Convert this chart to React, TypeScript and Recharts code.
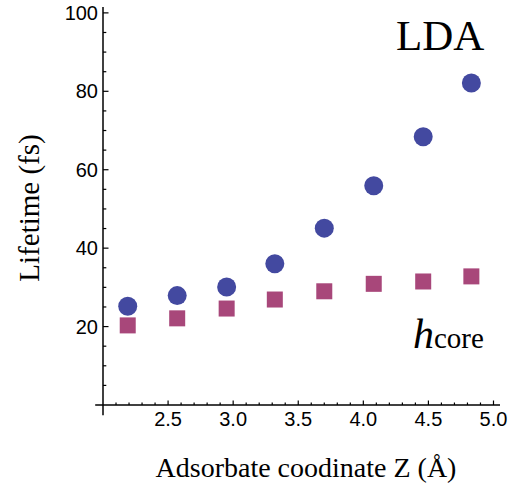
import React from 'react';
import { ScatterChart, Scatter, XAxis, YAxis, ReferenceLine } from 'recharts';

// adsorbate height Z (Å) and lifetimes (fs)
const zPositions = [2.19, 2.57, 2.95, 3.32, 3.7, 4.08, 4.46, 4.83];
const ldaLifetime = [25.2, 27.9, 30.1, 36.0, 45.1, 55.9, 68.4, 82.1];
const coreLifetime = [20.3, 22.1, 24.6, 26.9, 29.0, 30.9, 31.5, 32.8];

const xMajorTicks = [2.5, 3.0, 3.5, 4.0, 4.5, 5.0];
const xTickLabels = ['2.5', '3.0', '3.5', '4.0', '4.5', '5.0'];
const yMajorTicks = [20, 40, 60, 80, 100];
const yTickLabels = ['20', '40', '60', '80', '100'];

// minor ticks: every 0.1 on x, every 5 on y
const xTicks: number[] = [];
for (let i = 21; i <= 50; i++) xTicks.push(i / 10);
const yTicks: number[] = [];
for (let i = 5; i <= 100; i += 5) yTicks.push(i);

const ldaPoints = zPositions.map((z, i) => ({ z, t: ldaLifetime[i] }));
const corePoints = zPositions.map((z, i) => ({ z, t: coreLifetime[i] }));

const sans = '"Liberation Sans", Arial, Helvetica, sans-serif';
const serif = '"Liberation Serif", "Times New Roman", serif';

function XTick(props: any) {
  const { x, y, payload } = props;
  const idx = xMajorTicks.findIndex(t => Math.abs(t - payload.value) < 1e-6);
  const major = idx >= 0;
  return (
    <g>
      <line x1={x} x2={x} y1={y} y2={y - (major ? 4.5 : 2.5)} stroke="#000" strokeWidth={1.2} />
      {major && (
        <text x={x} y={y + 14} textAnchor="middle" dominantBaseline="central" fontSize={20} fontFamily={sans} fill="#000">
          {xTickLabels[idx]}
        </text>
      )}
    </g>
  );
}

function YTick(props: any) {
  const { x, y, payload } = props;
  const idx = yMajorTicks.indexOf(payload.value);
  const major = idx >= 0;
  return (
    <g>
      <line x1={x} x2={x + (major ? 5.5 : 3.3)} y1={y} y2={y} stroke="#000" strokeWidth={1.2} />
      {major && (
        <text x={x - 5} y={y} textAnchor="end" dominantBaseline="central" fontSize={20} fontFamily={sans} fill="#000">
          {yTickLabels[idx]}
        </text>
      )}
    </g>
  );
}

export default function App() {
  return (
    <div style={{ position: 'absolute', left: 0, top: 0, width: 511, height: 490, background: '#fff' }}>
      <ScatterChart width={511} height={490} margin={{ top: 7, right: 11, bottom: 0, left: 0 }}>
        <XAxis
          type="number"
          dataKey="z"
          domain={[2.0, 5.05]}
          allowDataOverflow
          ticks={xTicks}
          interval={0}
          height={85}
          tickSize={0}
          tickMargin={0}
          tickLine={false}
          tick={<XTick />}
          axisLine={{ stroke: '#000', strokeWidth: 1.5 }}
          label={{
            content: () => (
              <text x={306} y={477} textAnchor="middle" fontSize={28} fontFamily={serif} fill="#000">
                Adsorbate coodinate Z (Å)
              </text>
            ),
          }}
        />
        <YAxis
          type="number"
          dataKey="t"
          domain={[0, 101.5]}
          allowDataOverflow
          ticks={yTicks}
          interval={0}
          width={103}
          tickSize={0}
          tickMargin={0}
          tickLine={false}
          tick={<YTick />}
          axisLine={{ stroke: '#000', strokeWidth: 1.5 }}
          label={{
            content: () => (
              <text
                x={39}
                y={208}
                transform="rotate(-90, 39, 208)"
                textAnchor="middle"
                fontSize={29}
                fontFamily={serif}
                fill="#000"
              >
                Lifetime (fs)
              </text>
            ),
          }}
        />
        <ReferenceLine segment={[{ x: 2, y: 0 }, { x: 2, y: -2.6 }]} stroke="#000" strokeWidth={1.5} ifOverflow="visible" />
        <ReferenceLine segment={[{ x: 1.94, y: 0 }, { x: 2, y: 0 }]} stroke="#000" strokeWidth={1.5} ifOverflow="visible" />
        <Scatter
          name="LDA"
          data={ldaPoints}
          isAnimationActive={false}
          shape={(p: any) => <circle cx={p.cx} cy={p.cy} r={9.5} fill="#4349a0" />}
        />
        <Scatter
          name="h_core"
          data={corePoints}
          isAnimationActive={false}
          shape={(p: any) => <rect x={p.cx - 8} y={p.cy - 8} width={16} height={16} fill="#a8477a" />}
        />
      </ScatterChart>
      <svg width={511} height={490} style={{ position: 'absolute', left: 0, top: 0, pointerEvents: 'none' }}>
        <text x={396} y={50} fontSize={43} fontFamily={serif} fill="#000">LDA</text>
        <text x={413} y={348} fontFamily={serif} fill="#000">
          <tspan fontSize={42} fontStyle="italic">h</tspan>
          <tspan fontSize={29}>core</tspan>
        </text>
      </svg>
    </div>
  );
}
